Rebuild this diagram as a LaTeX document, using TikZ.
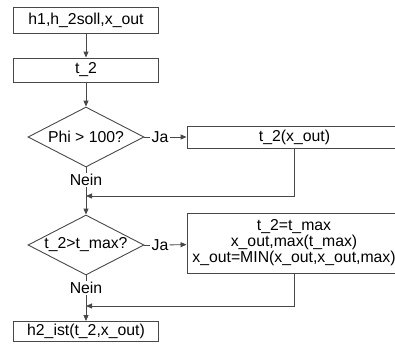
\documentclass[tikz,border=0pt]{standalone}
\usepackage{fontspec}
\setmainfont{Liberation Sans}
\usetikzlibrary{shapes.geometric,arrows.meta}
\definecolor{linec}{RGB}{72,72,72}
\begin{document}
\begin{tikzpicture}[x=1pt,y=-1pt,
  font=\fontsize{15.8}{16}\selectfont,
  box/.style={draw=linec, line width=0.9pt, rectangle, inner sep=0pt, align=center},
  dia/.style={draw=linec, line width=0.9pt, diamond, inner sep=0pt, minimum width=116pt, minimum height=60pt, shape aspect=2},
  lbl/.style={inner sep=1pt},
  conn/.style={draw=linec, line width=0.9pt},
  arr/.style={conn, -{Triangle[length=6pt,width=5pt]}}
]
\useasboundingbox (0,0) rectangle (395,345);
\clip (0,0) rectangle (395,345);
\node[box, minimum width=145pt, minimum height=26pt] (b1) at (86,20) {h1,h\_2soll,x\_out};
\node[box, minimum width=145pt, minimum height=24pt] (b2) at (86,70) {t\_2};
\node[dia] (d1) at (86,137) {Phi > 100?};
\node[lbl] (ja1) at (160,137) {Ja};
\node[box, minimum width=215pt, minimum height=22pt] (b3) at (294.5,137) {t\_2(x\_out)};
\node[lbl] (n1) at (86,180) {Nein};
\coordinate (m1) at (86,196);
\node[dia] (d2) at (86,245) {t\_2>t\_max?};
\node[lbl] (ja2) at (160,245) {Ja};
\node[box, minimum width=214pt, minimum height=60pt] (b4) at (294,243) {t\_2=t\_max\\x\_out,max(t\_max)\\x\_out=MIN(x\_out,x\_out,max)};
\node[lbl] (n2) at (86,288) {Nein};
\coordinate (m2) at (86,306);
\node[box, minimum width=145pt, minimum height=20pt] (b5) at (86,331.5) {h2\_ist(t\_2,x\_out)};
\draw[arr] (b1) -- (b2);
\draw[arr] (b2) -- (d1);
\draw[conn] (d1) -- (ja1);
\draw[arr] (ja1) -- (b3);
\draw[conn] (d1) -- (n1);
\draw[arr] (n1) -- (d2);
\draw[arr] (b3.south) |- (m1);
\draw[conn] (d2) -- (ja2);
\draw[arr] (ja2) -- (b4);
\draw[conn] (d2) -- (n2);
\draw[arr] (n2) -- (b5);
\draw[arr] (b4.south) |- (m2);
\end{tikzpicture}
\end{document}
